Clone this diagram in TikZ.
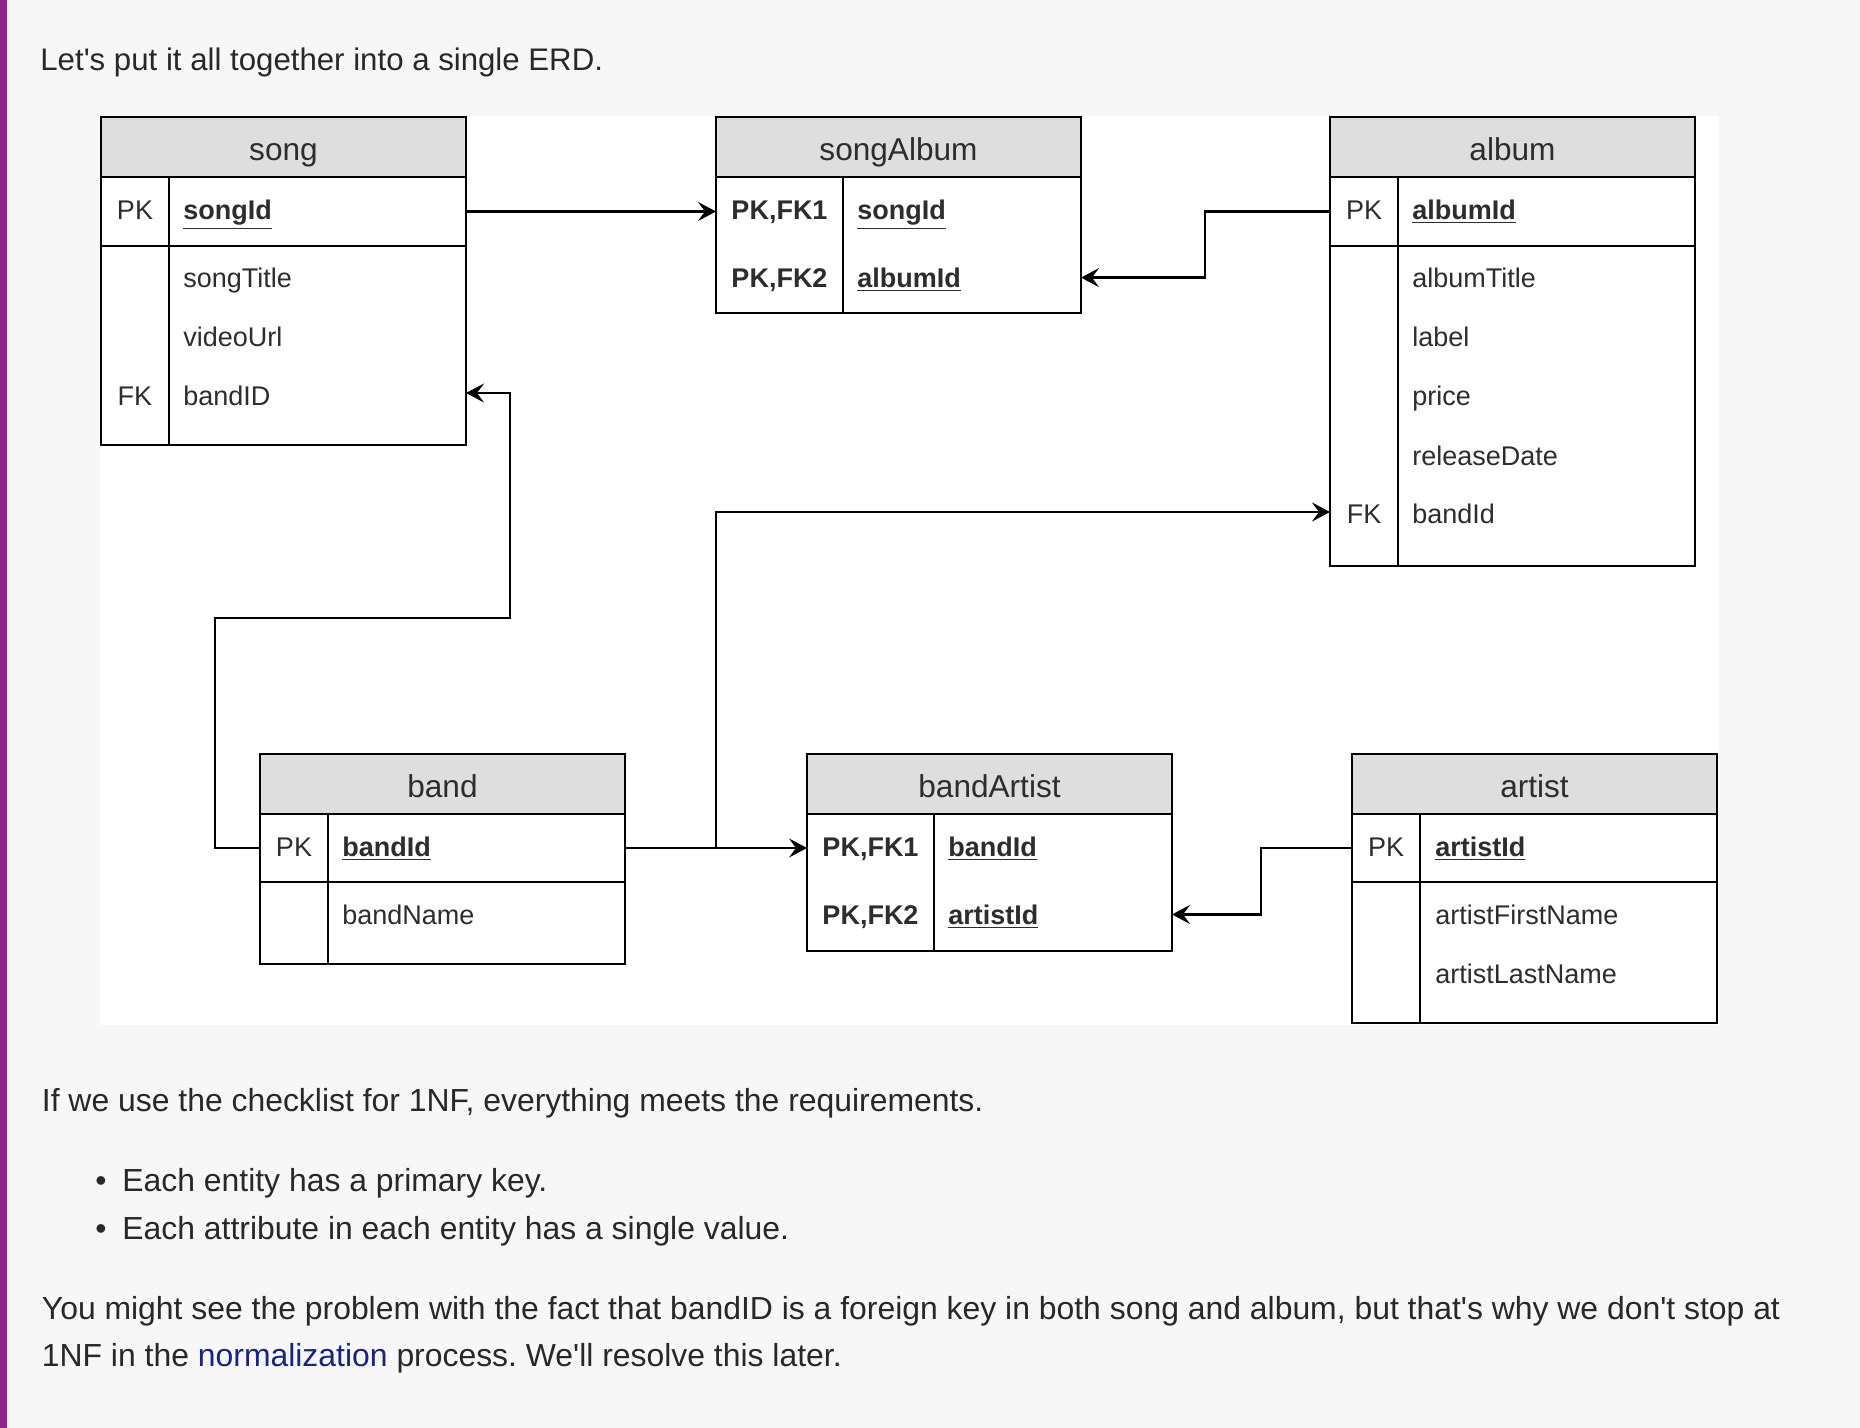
\documentclass[tikz,border=0pt]{standalone}
\usepackage{fontspec}
\setmainfont{Liberation Sans}
\usetikzlibrary{arrows.meta,positioning}
\definecolor{pagebg}{RGB}{247,247,247}
\definecolor{headgray}{RGB}{222,222,222}
\definecolor{inkgray}{RGB}{45,45,45}
\definecolor{bodyink}{RGB}{40,40,40}
\definecolor{barpurple}{RGB}{142,36,142}
\definecolor{linkblue}{RGB}{26,35,126}
\newcommand{\rowfont}{\fontsize{13.5pt}{16pt}\selectfont}
\newcommand{\headfont}{\fontsize{15.8pt}{19pt}\selectfont}
\newcommand{\bodyfont}{\fontsize{15.95pt}{19pt}\selectfont}
\newcommand{\keyfield}[1]{\textbf{\underline{#1}}}
\frenchspacing
\tikzset{
  tabhead/.style={
    draw,
    fill=headgray,
    line width=1.4pt,
    outer sep=0pt,
    minimum width=182.5pt,
    minimum height=30pt,
    inner sep=0pt,
    text height=14pt,
    text depth=0pt,
    font=\headfont,
    text=inkgray
  },
  section/.style={
    draw,
    fill=white,
    line width=1.4pt,
    outer sep=0pt,
    minimum width=182.5pt,
    inner sep=0pt
  },
  keytext/.style={font=\rowfont, text=inkgray, inner sep=0pt, text height=9.6pt, text depth=0pt},
  fieldtext/.style={keytext, anchor=west},
  divider/.style={line width=1.2pt},
  fk/.style={-{Stealth[length=9pt,width=9.5pt,inset=3.5pt]}, line width=1.1pt},
  para/.style={font=\bodyfont, text=bodyink, anchor=base west, inner sep=0pt}
}
\begin{document}
\begin{tikzpicture}[x=0.5pt, y=-0.5pt]

% Page and diagram canvas
\fill[pagebg] (0,0) rectangle (1860,1428);
\useasboundingbox (0,0) rectangle (1860,1428);
\fill[barpurple] (0,0) rectangle (7,1428);
\fill[white] (100,116.5) rectangle (1719,1025);

\node[para, font=\fontsize{15.6pt}{19pt}\selectfont] (intro) at (40,70.7) {Let\textquotesingle s put it all together into a single ERD.};

% song
\node[tabhead] (song) at (283.5,147) {song};
\node[section, below=0pt of song, minimum height=34.5pt] (songPK) {};
\node[section, below=0pt of songPK, minimum height=99.5pt] (songBody) {};
\draw[divider] ([xshift=34pt]songPK.north west) -- ([xshift=34pt]songBody.south west);
\node[keytext] (songPKkey) at (135,210) {PK};
\node[fieldtext] (songId) at (183,210) {\keyfield{songId}};
\node[fieldtext] (songTitle) at (183,277.6) {songTitle};
\node[fieldtext] (songUrl) at (183,337) {videoUrl};
\node[keytext] (songFKkey) at (135,396) {FK};
\node[fieldtext] (songBand) at (183,396) {bandID};

% songAlbum
\node[tabhead] (sa) at (898.5,147) {songAlbum};
\node[section, below=0pt of sa, minimum height=68pt] (saBody) {};
\draw[divider] ([xshift=63.5pt]saBody.north west) -- ([xshift=63.5pt]saBody.south west);
\node[keytext] (saKey1) at (779.5,210) {\textbf{PK,FK1}};
\node[fieldtext] (saSong) at (857,210) {\keyfield{songId}};
\node[keytext] (saKey2) at (779.5,277.6) {\textbf{PK,FK2}};
\node[fieldtext] (saAlbum) at (857,277.6) {\keyfield{albumId}};

% album
\node[tabhead] (album) at (1512.5,147) {album};
\node[section, below=0pt of album, minimum height=34.5pt] (albumPK) {};
\node[section, below=0pt of albumPK, minimum height=160pt] (albumBody) {};
\draw[divider] ([xshift=34pt]albumPK.north west) -- ([xshift=34pt]albumBody.south west);
\node[keytext] (albumPKkey) at (1364,210) {PK};
\node[fieldtext] (albumId) at (1412,210) {\keyfield{albumId}};
\node[fieldtext] (albumTitle) at (1412,277.6) {albumTitle};
\node[fieldtext] (albumLabel) at (1412,337) {label};
\node[fieldtext] (albumPrice) at (1412,396) {price};
\node[fieldtext] (albumDate) at (1412,455.5) {releaseDate};
\node[keytext] (albumFKkey) at (1364,514) {FK};
\node[fieldtext] (albumBand) at (1412,514) {bandId};

% band
\node[tabhead] (band) at (442.5,784) {band};
\node[section, below=0pt of band, minimum height=34pt] (bandPK) {};
\node[section, below=0pt of bandPK, minimum height=41pt] (bandBody) {};
\draw[divider] ([xshift=34pt]bandPK.north west) -- ([xshift=34pt]bandBody.south west);
\node[keytext] (bandPKkey) at (294,847) {PK};
\node[fieldtext] (bandId) at (342,847) {\keyfield{bandId}};
\node[fieldtext] (bandName) at (342,914.5) {bandName};

% bandArtist
\node[tabhead] (ba) at (989.5,784) {bandArtist};
\node[section, below=0pt of ba, minimum height=68.5pt] (baBody) {};
\draw[divider] ([xshift=63.5pt]baBody.north west) -- ([xshift=63.5pt]baBody.south west);
\node[keytext] (baKey1) at (870.5,847) {\textbf{PK,FK1}};
\node[fieldtext] (baBand) at (948,847) {\keyfield{bandId}};
\node[keytext] (baKey2) at (870.5,914.5) {\textbf{PK,FK2}};
\node[fieldtext] (baArtist) at (948,914.5) {\keyfield{artistId}};

% artist
\node[tabhead] (artist) at (1534.5,784) {artist};
\node[section, below=0pt of artist, minimum height=34pt] (artistPK) {};
\node[section, below=0pt of artistPK, minimum height=70.5pt] (artistBody) {};
\draw[divider] ([xshift=34pt]artistPK.north west) -- ([xshift=34pt]artistBody.south west);
\node[keytext] (artistPKkey) at (1386,847) {PK};
\node[fieldtext] (artistId) at (1435,847) {\keyfield{artistId}};
\node[fieldtext] (artistFirst) at (1435,914.5) {artistFirstName};
\node[fieldtext] (artistLast) at (1435,974) {artistLastName};

% Relationships
\draw[fk] (songPK.east) -- (songPK.east -| saBody.west);
\draw[fk] (albumPK.west) -- ++(-125,0) |- (saBody.east |- saAlbum);
\draw[fk] (bandPK.west) -- ++(-45,0) |- (510,618) |- ([yshift=1.5pt]songBody.east |- songBand);
\draw[fk] (bandPK.east) -- (bandPK.east -| baBody.west);
\draw[fk] (bandPK.east -| saBody.west) |- ([yshift=1pt]albumBody.west |- albumBand);
\draw[fk] (artistPK.west) -- ++(-91,0) |- (baBody.east |- baArtist);

% Text below the diagram
\node[para] (check) at (41.5,1111) {If we use the checklist for 1NF, everything meets the requirements.};
\node[para, anchor=base] (dot1) at (101,1191) {\textbullet};
\node[para] (item1) at (122,1191) {Each entity has a primary key.};
\node[para, anchor=base] (dot2) at (101,1239) {\textbullet};
\node[para] (item2) at (122,1239) {Each attribute in each entity has a single value.};
\node[para] (close1) at (41.5,1319) {You might see the problem with the fact that bandID is a foreign key in both song and album, but that\textquotesingle s why we don\textquotesingle t stop at};
\node[para] (close2) at (41.5,1366) {1NF in the \textcolor{linkblue}{normalization} process. We\textquotesingle ll resolve this later.};

\end{tikzpicture}
\end{document}
